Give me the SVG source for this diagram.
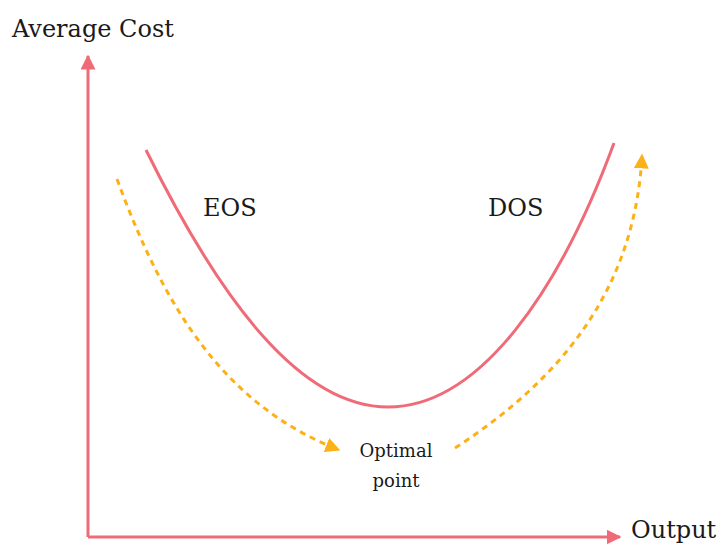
<svg xmlns="http://www.w3.org/2000/svg" width="727" height="545" viewBox="0 0 727 545">
  <style>
    .label { font-family: "DejaVu Serif", "Liberation Serif", serif; fill: #1a1a1a; }
    .axis { stroke: #F06B78; stroke-width: 3; fill: none; }
    .curve { stroke: #F06B78; stroke-width: 3; fill: none; }
    .flow { stroke: #FBB117; stroke-width: 3; fill: none; stroke-dasharray: 6 5; }
  </style>
  <defs>
    <marker id="axisHead" viewBox="0 0 10 10" refX="9" refY="5" markerWidth="5" markerHeight="5" markerUnits="strokeWidth" orient="auto">
      <path d="M0,0 L10,5 L0,10 Z" fill="#F06B78"/>
    </marker>
    <marker id="flowHead" viewBox="0 0 10 10" refX="9" refY="5" markerWidth="5" markerHeight="5" markerUnits="strokeWidth" orient="auto">
      <path d="M0,0 L10,5 L0,10 Z" fill="#FBB117"/>
    </marker>
  </defs>
  <rect width="727" height="545" fill="#ffffff"/>

  <g id="axes">
    <path class="axis" d="M88,537 L88,56" marker-end="url(#axisHead)"/>
    <path class="axis" d="M88,537 L620,537" marker-end="url(#axisHead)"/>
  </g>

  <g id="cost-curve">
    <path class="curve" d="M146,150 C220,300 300,407 388,407 C480,407 560,290 614,143"/>
  </g>

  <g id="connectors">
    <path class="flow" d="M117,179 C165,310 225,405 339,450" marker-end="url(#flowHead)"/>
    <path class="flow" d="M455,448 C560,380 635,290 642,155" marker-end="url(#flowHead)"/>
  </g>

  <g id="label-y">
    <text class="label" x="12" y="37" font-size="24">Average Cost</text>
  </g>
  <g id="label-x">
    <text class="label" x="631" y="538" font-size="24">Output</text>
  </g>
  <g id="eos">
    <text class="label" x="203" y="216" font-size="24">EOS</text>
  </g>
  <g id="dos">
    <text class="label" x="488" y="216" font-size="24">DOS</text>
  </g>
  <g id="optimal-point">
    <text class="label" x="396" y="457" font-size="18" text-anchor="middle">Optimal</text>
    <text class="label" x="396" y="487" font-size="18" text-anchor="middle">point</text>
  </g>
</svg>
